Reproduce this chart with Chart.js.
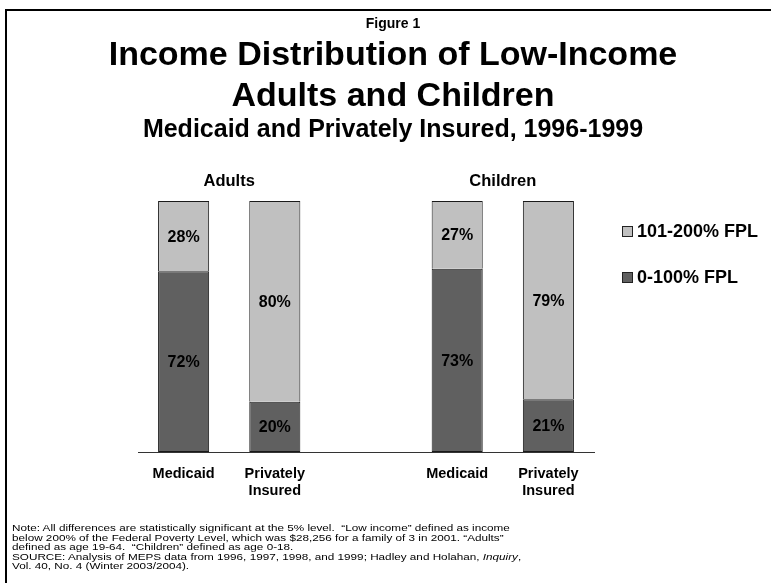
<!DOCTYPE html>
<html>
<head>
<meta charset="utf-8">
<script src="https://cdn.jsdelivr.net/npm/chart.js@4.4.1/dist/chart.umd.min.js"></script>
<style>
    html, body {
        margin: 0;
        padding: 0;
        background: #fff;
        width: 771px;
        height: 583px;
        overflow: hidden;
        font-family: "Liberation Sans", Arial, sans-serif;
    }
    #frame {
        position: absolute;
        left: 5px;
        top: 9px;
        width: 800px;
        height: 600px;
        border-top: 2px solid #000;
        border-left: 2px solid #000;
    }
    .title {
        position: absolute;
        left: 0;
        width: 786px;
        text-align: center;
        font-weight: bold;
        line-height: 1;
        color: #000;
        white-space: nowrap;
    }
    #chart {
        position: absolute;
        left: 0;
        top: 0;
    }
    #legend {
        position: absolute;
        left: 622px;
        top: 0;
    }
    .legend-item {
        position: absolute;
        left: 0;
        white-space: nowrap;
        font-weight: bold;
        font-size: 18px;
        line-height: 18px;
        height: 18px;
    }
    .legend-item span.box {
        display: inline-block;
        width: 11px;
        height: 11px;
        border: 1px solid #222;
        box-sizing: border-box;
        margin-right: 4px;
        vertical-align: 0px;
    }
    #note {
        position: absolute;
        left: 12px;
        top: 524px;
        font-size: 9.3px;
        line-height: 9.6px;
        color: #000;
        white-space: nowrap;
        transform: scaleX(1.26);
        transform-origin: 0 0;
    }
</style>
</head>
<body>
<div id="frame"></div>
<canvas id="chart" width="771" height="583"></canvas>

<div class="title" style="top:16px;font-size:14px;">Figure 1</div>
<div class="title" style="top:36px;font-size:34px;">Income Distribution of Low-Income</div>
<div class="title" style="top:77px;font-size:34px;">Adults and Children</div>
<div class="title" style="top:116px;font-size:25px;">Medicaid and Privately Insured, 1996-1999</div>

<div id="legend"></div>

<div id="note">
Note: All differences are statistically significant at the 5% level.&nbsp; “Low income” defined as income<br>
below 200% of the Federal Poverty Level, which was $28,256 for a family of 3 in 2001. “Adults”<br>
defined as age 19-64.&nbsp; “Children” defined as age 0-18.<br>
SOURCE: Analysis of MEPS data from 1996, 1997, 1998, and 1999; Hadley and Holahan, <i>Inquiry</i>,<br>
Vol. 40, No. 4 (Winter 2003/2004).
</div>

<script>
// bars: Adults (Medicaid, Private), spacer, Children (Medicaid, Private)
const categories = ['Medicaid', ['Privately', 'Insured'], '', 'Medicaid', ['Privately', 'Insured']];
const groups = [
    { label: 'Adults', from: 0, to: 1 },
    { label: 'Children', from: 3, to: 4 }
];
const seriesNames = ['0-100% FPL', '101-200% FPL'];
const below100 = [72, 20, null, 73, 21];
const from101to200 = [28, 80, null, 27, 79];

const DARK = '#606060';
const LIGHT = '#c0c0c0';
const FONT = '"Liberation Sans", Arial, sans-serif';

/**
 * Writes the percentage inside each bar segment and the group headings.
 */
const barTextPlugin = {
    id: 'barText',
    afterDatasetsDraw(chart) {
        const ctx = chart.ctx;
        ctx.save();
        ctx.fillStyle = '#000';
        ctx.textAlign = 'center';
        ctx.textBaseline = 'middle';
        ctx.font = 'bold 16px ' + FONT;

        chart.data.datasets.forEach((ds, i) => {
            const meta = chart.getDatasetMeta(i);
            meta.data.forEach((bar, j) => {
                const v = ds.data[j];
                if (v == null) return;
                const { x, y, base } = bar.getProps(['x', 'y', 'base'], true);
                ctx.fillText(v + '%', x, (y + base) / 2 + 1);
            });
        });

        // group headings above the bars
        const xs = chart.scales.x;
        ctx.font = 'bold 16.5px ' + FONT;
        groups.forEach(g => {
            const cx = (xs.getPixelForValue(g.from) + xs.getPixelForValue(g.to)) / 2;
            ctx.fillText(g.label, cx, chart.chartArea.top - 20);
        });
        ctx.restore();
    }
};

const ctx = document.getElementById('chart').getContext('2d');
const chart = new Chart(ctx, {
    type: 'bar',
    data: {
        labels: categories,
        datasets: [{
            label: seriesNames[0],
            data: below100,
            backgroundColor: DARK,
            borderColor: '#1a1a1a',
            borderWidth: 1,
            borderSkipped: false
        }, {
            label: seriesNames[1],
            data: from101to200,
            backgroundColor: LIGHT,
            borderColor: '#1a1a1a',
            borderWidth: 1,
            borderSkipped: 'bottom' // the dark segment's top edge already draws the divider
        }]
    },
    options: {
        responsive: false,
        animation: false,
        devicePixelRatio: 1,
        layout: {
            padding: { left: 138, right: 177, top: 201, bottom: 71 }
        },
        datasets: {
            bar: {
                categoryPercentage: 1,
                barPercentage: 0.56
            }
        },
        scales: {
            x: {
                stacked: true,
                grid: { display: false, drawTicks: false },
                border: { display: true, color: '#333', width: 1 },
                ticks: {
                    color: '#000',
                    padding: 13,
                    font: { family: FONT, size: 14.5, weight: 'bold', lineHeight: 1.2 }
                },
                afterFit: scale => { scale.height = 60; }
            },
            y: {
                stacked: true,
                display: false,
                min: 0,
                max: 100
            }
        },
        plugins: {
            legend: { display: false },
            tooltip: { enabled: false }
        }
    },
    plugins: [barTextPlugin]
});

// legend, upper band first
const legend = document.getElementById('legend');
[1, 0].forEach((dsIndex, row) => {
    const ds = chart.data.datasets[dsIndex];
    const item = document.createElement('div');
    item.className = 'legend-item';
    item.style.top = (222 + row * 46) + 'px';
    const box = document.createElement('span');
    box.className = 'box';
    box.style.background = ds.backgroundColor;
    item.appendChild(box);
    item.appendChild(document.createTextNode(ds.label));
    legend.appendChild(item);
});
</script>
</body>
</html>
